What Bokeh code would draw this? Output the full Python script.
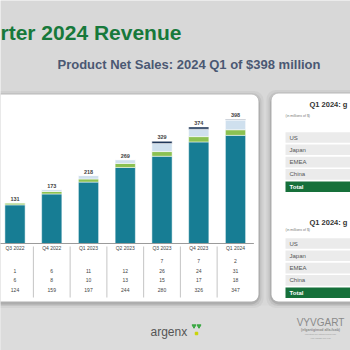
from bokeh.plotting import figure
from bokeh.models import Range1d, ColumnDataSource
from bokeh.core.properties import value
from bokeh.embed import file_html
from bokeh.resources import INLINE

# ---- data ----
quarters = ["Q3 2022", "Q4 2022", "Q1 2023", "Q2 2023", "Q3 2023", "Q4 2023", "Q1 2024"]
base_sales = [124, 159, 197, 244, 280, 326, 347]
green_sales = [6, 8, 10, 13, 15, 17, 18]
light_sales = [1, 6, 11, 12, 26, 24, 31]
navy_sales = [0, 0, 0, 0, 7, 7, 2]
totals = [131, 173, 218, 269, 329, 374, 398]
navy_labels = ["", "", "", "", "7", "7", "2"]
regions = ["US", "Japan", "EMEA", "China", "Total"]

FONT = value("Liberation Sans")

p = figure(width=350, height=350, x_range=Range1d(0, 350), y_range=Range1d(350, 0),
           output_backend="svg", toolbar_location=None, min_border=0,
           x_axis_location=None, y_axis_location=None)
p.grid.visible = False
p.outline_line_color = None
p.background_fill_color = "#d8d8d8"
p.border_fill_color = "#d8d8d8"
p.extra_x_ranges = {"q": Range1d(-0.3946, 9.129)}
p.extra_y_ranges = {"v": Range1d(-343.4, 779.8)}

# footer band slightly lighter
p.quad(left=[0], right=[350], top=[305], bottom=[350], fill_color="#dcdcdc", line_color=None)

# ---- panels with shadow ----
def panel(l, r, t, b):
    for k, a in [(5, 0.04), (3, 0.06), (1.5, 0.10)]:
        p.quad(left=[l - k], right=[r + k], top=[t - k + 1.5], bottom=[b + k + 1.5],
               fill_color="black", fill_alpha=a, line_color=None, border_radius=9)
    p.quad(left=[l], right=[r], top=[t], bottom=[b], fill_color="white",
           line_color=None, border_radius=7)

panel(-20, 258, 94, 301)
panel(271, 380, 93, 301)

# ---- title texts ----
p.text(x=[0], y=[32], text=["rter 2024 Revenue"], text_font=FONT, text_font_style="bold",
       text_font_size="21px", text_color="#17793b", text_baseline="middle")
p.text(x=[57], y=[64], text=["Product Net Sales: 2024 Q1 of $398 million"], text_font=FONT,
       text_font_style="bold", text_font_size="13px", text_color="#4b5873",
       text_baseline="middle")

# ---- stacked bars ----
idx = list(range(len(quarters)))
src = ColumnDataSource(dict(idx=idx, base=base_sales, green=green_sales, light=light_sales,
                            navy=navy_sales, total=totals,
                            total_lbl=[str(t) for t in totals], q=quarters))
p.vbar_stack(["base", "green", "light", "navy"], x="idx", width=0.55, source=src,
             color=["#177d94", "#8cc152", "#cfe0ee", "#1d3557"],
             line_color="white", line_width=0.5, x_range_name="q", y_range_name="v")
p.text(x="idx", y="total", text="total_lbl", source=src, x_range_name="q", y_range_name="v",
       text_align="center", text_baseline="bottom", y_offset=-2, text_font=FONT,
       text_font_style="bold", text_font_size="5.5px", text_color="#444444")

# axis baseline
p.segment(x0=[-0.9], x1=[6.5], y0=[0], y1=[0], x_range_name="q", y_range_name="v",
          line_color="#9a9a9a", line_width=1)

# quarter labels
p.text(x="idx", y=247.5, text="q", source=src, x_range_name="q",
       text_align="center", text_baseline="middle", text_font=FONT,
       text_font_size="5px", text_color="#444444")

# table rows
rows = [navy_labels, [str(v) for v in light_sales], [str(v) for v in green_sales],
        [str(v) for v in base_sales]]
row_y = [260, 270, 279, 289]
tx, ty, tt = [], [], []
for r, yy in zip(rows, row_y):
    for i, s in enumerate(r):
        tx.append(i); ty.append(yy); tt.append(s)
p.text(x=tx, y=ty, text=tt, x_range_name="q", text_align="center", text_baseline="middle",
       text_font=FONT, text_font_size="5px", text_color="#444444")

# column separators
sep = [i + 0.5 for i in idx[:-1]]
p.segment(x0=sep, x1=sep, y0=[246] * len(sep), y1=[297] * len(sep), x_range_name="q",
          line_color="#b5b5b5", line_width=0.8)

# ---- right-hand tables ----
def region_table(title_y, note_y, first_row_y):
    p.text(x=[309], y=[title_y], text=["Q1 2024: g"], text_font=FONT, text_font_style="bold",
           text_font_size="7.5px", text_color="#333333", text_baseline="middle")
    p.text(x=[285], y=[note_y], text=["(in millions of $)"], text_font=FONT,
           text_font_size="3.5px", text_color="#777777", text_baseline="middle")
    ys = [first_row_y + 12.3 * k for k in range(len(regions))]
    fills = ["#ebebeb"] * (len(regions) - 1) + ["#16703a"]
    p.quad(left=[285] * len(ys), right=[360] * len(ys), top=[y - 5.3 for y in ys],
           bottom=[y + 5.3 for y in ys], fill_color=fills, line_color=None)
    p.text(x=[289] * (len(ys) - 1), y=ys[:-1], text=regions[:-1], text_font=FONT,
           text_font_size="6px", text_color="#555555", text_baseline="middle")
    p.text(x=[289], y=[ys[-1]], text=[regions[-1]], text_font=FONT, text_font_style="bold",
           text_font_size="6px", text_color="white", text_baseline="middle")

region_table(104, 115, 137)
region_table(222, 229.5, 243)

# ---- footer logos ----
p.text(x=[150], y=[331], text=["argenx"], text_font=FONT, text_font_size="12px",
       text_color="#555555", text_baseline="middle")
p.scatter(x=[193.5, 198.5], y=[325.5, 325.5], marker="triangle", size=4, angle=3.14159,
          color="#3aa843")
p.scatter(x=[196], y=[333], marker="square", size=2.5, color="#c8d400")
p.text(x=[320], y=[322], text=["VYVGART"], text_font=FONT, text_font_size="10px",
       text_color="#8a8a8a", text_align="center", text_baseline="middle")
p.text(x=[320], y=[329.5], text=["(efgartigimod alfa-fcab)"], text_font=FONT,
       text_font_style="bold", text_font_size="3.5px", text_color="#8a8a8a",
       text_align="center", text_baseline="middle")
p.text(x=[320, 320], y=[334, 338], text=["Injection for intravenous use", "400 mg/20 mL vial"],
       text_font=FONT, text_font_size="2.5px", text_color="#9a9a9a",
       text_align="center", text_baseline="middle")

open("out.html", "w").write(file_html(p, INLINE))
